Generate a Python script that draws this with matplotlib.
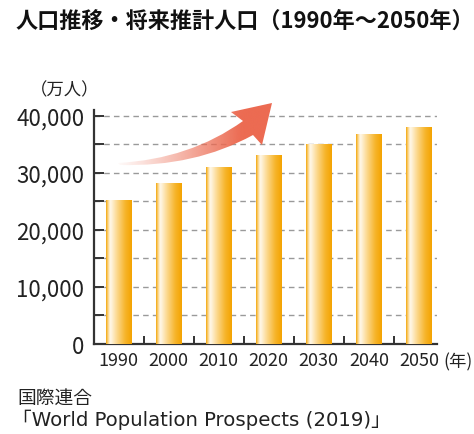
import matplotlib
matplotlib.use("Agg")
import matplotlib.pyplot as plt
import numpy as np
from matplotlib.colors import LinearSegmentedColormap, to_rgb
from matplotlib.path import Path
from matplotlib.patches import PathPatch

plt.rcParams['font.family'] = ['Noto Sans CJK JP', 'DejaVu Sans']

# population, unit: 10,000 people
years = ['1990', '2000', '2010', '2020', '2030', '2040', '2050']
population = [25212, 28171, 30901, 33100, 34962, 36660, 37942]
y_ticks = [0, 10000, 20000, 30000, 40000]
y_tick_labels = ['0', '10,000', '20,000', '30,000', '40,000']

title = '人口推移・将来推計人口（1990年～2050年）'
unit_label = '（万人）'
year_label = '(年)'
source_lines = ['国際連合', '「World Population Prospects (2019)」']

W, H = 474, 435
fig = plt.figure(figsize=(W / 100, H / 100), dpi=100)
fig.patch.set_facecolor('white')

# main axes placed in pixel terms
left, right, bottom, top = 94, 437, 345, 111
ax = fig.add_axes([left / W, 1 - bottom / H, (right - left) / W, (bottom - top) / H])

x = np.arange(len(years))
bar_w = 0.5

# horizontal gradient used for each bar
bar_cmap = LinearSegmentedColormap.from_list('bar', [
    (0.0, '#F2A200'),
    (0.06, '#F9CB6A'),
    (0.16, '#FFF9EE'),
    (0.42, '#FCD98F'),
    (0.75, '#F6B429'),
    (1.0, '#F4A300'),
])
grad = np.linspace(0, 1, 256).reshape(1, -1)
bars = ax.bar(x, population, width=bar_w, color='none', edgecolor='none', zorder=3)
for b in bars:
    x0, w, h = b.get_x(), b.get_width(), b.get_height()
    ax.imshow(grad, cmap=bar_cmap, aspect='auto', interpolation='bicubic',
              extent=(x0, x0 + w, 0, h), zorder=3)
ax.set_xlim(-0.49, 6.36)
ax.set_ylim(0, 41000)

# y axis
ax.set_yticks(y_ticks)
ax.set_yticklabels(y_tick_labels, fontsize=16, color='#222222')
ax.set_yticks(np.arange(5000, 40000, 10000), minor=True)
ax.tick_params(axis='y', which='both', direction='in', length=7, width=1.4,
               color='#333333', pad=7)
for yv in range(5000, 40001, 5000):
    ax.axhline(yv, color='#9a9a9a', lw=1.0, ls=(0, (4, 3)), zorder=1)

# x axis: labels under bars, small marks between them
ax.set_xticks(x)
ax.set_xticklabels(years, fontsize=13, color='#222222')
ax.set_xticks(x[:-1] + 0.5, minor=True)
ax.tick_params(axis='x', which='major', length=0, pad=5)
ax.tick_params(axis='x', which='minor', direction='in', length=6, width=1.4, color='#333333')

for s in ['top', 'right']:
    ax.spines[s].set_visible(False)
for s in ['left', 'bottom']:
    ax.spines[s].set_color('#333333')
    ax.spines[s].set_linewidth(1.6)

# overlay in pixel coordinates for the trend arrow
ov = fig.add_axes([0, 0, 1, 1], zorder=5)
ov.axis('off')
ov.patch.set_alpha(0)

verts = [
    (118, 164),
    (190, 160), (243, 122),          # upper edge of shaft
    (231, 113),                      # head left tip
    (272, 104),                      # head apex
    (262, 146),                      # head lower tip
    (253, 136),
    (195, 168), (120, 166),          # lower edge of shaft
    (118, 164),
]
codes = [Path.MOVETO, Path.CURVE3, Path.CURVE3, Path.LINETO, Path.LINETO,
         Path.LINETO, Path.LINETO, Path.CURVE3, Path.CURVE3, Path.CLOSEPOLY]
arrow = PathPatch(Path(verts, codes), facecolor='none', edgecolor='none')
ov.add_patch(arrow)
rgb = np.array(to_rgb('#EC6B52'))
ramp = np.clip(np.linspace(0.0, 1.25, 256), 0, 1) ** 1.1
img = np.zeros((1, 256, 4))
img[..., :3] = rgb
img[..., 3] = ramp
im = ov.imshow(img, aspect='auto', extent=(112, 274, 170, 100), interpolation='bicubic')
im.set_clip_path(arrow)
ov.set_xlim(0, W)
ov.set_ylim(H, 0)

# texts
fig.text(16 / W, 1 - 21 / H, title, fontsize=15.9, fontweight='bold',
         ha='left', va='center', color='#111111')
fig.text(30 / W, 1 - 90 / H, unit_label, fontsize=12.5, ha='left', va='center', color='#222222')
fig.text(443 / W, 1 - 362 / H, year_label, fontsize=12.5, ha='left', va='center', color='#222222')
fig.text(17 / W, 1 - 398 / H, source_lines[0], fontsize=13.5, ha='left', va='center', color='#222222')
fig.text(12 / W, 1 - 420 / H, source_lines[1], fontsize=14.2, ha='left', va='center', color='#222222',
         family=['DejaVu Sans', 'Noto Sans CJK JP'])

fig.savefig('out.png', dpi=100, facecolor='white')
